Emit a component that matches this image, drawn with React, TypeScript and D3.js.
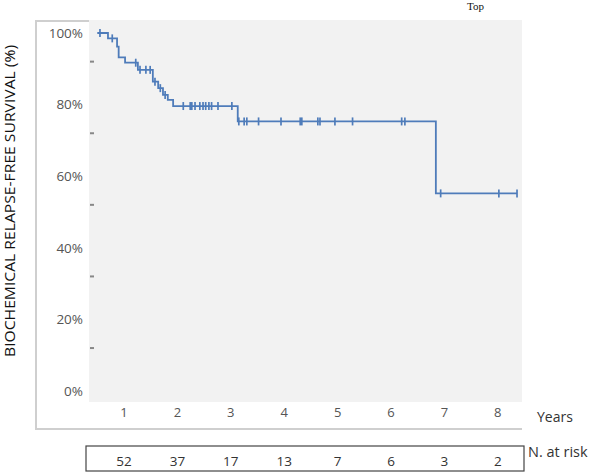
import React from 'react';
import * as d3 from 'd3';

// step points of the survival curve: [years, survival %]
const stepTimes = [0, 0.2, 0.37, 0.4, 0.52, 0.76, 1.04, 1.14, 1.23, 1.32, 1.42, 2.63, 6.34];
const stepValues = [100, 98.5, 96.2, 93.2, 91.7, 89.7, 86.4, 84.6, 82.7, 81.3, 79.6, 75.3, 55.2];
const curveEnd = 7.86;

// censored observations (years)
const censorTimes = [
  0.05, 0.28, 0.72, 0.8, 0.91, 0.99, 1.08, 1.18, 1.27,
  1.61, 1.74, 1.77, 1.83, 1.92, 1.98, 2.03, 2.09, 2.14, 2.26, 2.52,
  2.65, 2.75, 2.8, 3.02, 3.44, 3.8, 3.83, 4.13, 4.17, 4.45, 4.78, 5.7, 5.76,
  6.43, 7.52, 7.86,
];

const yearLabels = ['1', '2', '3', '4', '5', '6', '7', '8'];
const atRisk = [52, 37, 17, 13, 7, 6, 3, 2];
const yTicks = [0, 20, 40, 60, 80, 100];
const yMinorTicks = [12, 32, 52, 72, 92];

const blue = '#4f7cba';
const font = "'Open Sans', 'DejaVu Sans', sans-serif";

function survivalAt(t: number) {
  let s = stepValues[0];
  for (let i = 0; i < stepTimes.length; i++) {
    if (stepTimes[i] <= t) s = stepValues[i];
  }
  return s;
}

export default function App() {
  const x = d3.scaleLinear().domain([0, 8]).range([97.3, 524.5]);
  const band = d3.scaleBand().domain(yearLabels).range([97.3, 524.5]);
  const y = d3.scaleLinear().domain([0, 100]).range([391, 33]);

  const pts: [number, number][] = stepTimes.map((t, i) => [t, stepValues[i]]);
  pts.push([curveEnd, stepValues[stepValues.length - 1]]);
  const line = d3.line<[number, number]>()
    .x(d => x(d[0]))
    .y(d => y(d[1]))
    .curve(d3.curveStepAfter);

  return (
    <svg width={600} height={473} style={{ position: 'absolute', left: 0, top: 0 }}>
      <rect width={600} height={473} fill="#fff" />
      <text x={467} y={10} fontFamily="'Liberation Serif', serif" fontSize={11} fill="#111">Top</text>

      {/* outer frame */}
      <path d="M89,21 H36 V429 H522" fill="none" stroke="#cfcfcf" strokeWidth={2} />
      <rect x={89} y={20} width={433} height={382} fill="#f2f2f2" />

      <text transform="translate(15,201) rotate(-90)" textAnchor="middle"
        fontFamily={font} fontSize={14} textLength={312} lengthAdjust="spacingAndGlyphs" fill="#111">
        BIOCHEMICAL RELAPSE-FREE SURVIVAL (%)
      </text>

      {yTicks.map(v => (
        <text key={v} x={83} y={y(v)} dy="0.35em" textAnchor="end"
          fontFamily={font} fontSize={13.5} fill="#555">{v}%</text>
      ))}
      {yMinorTicks.map(v => (
        <line key={v} x1={90} x2={94} y1={y(v)} y2={y(v)} stroke="#888" strokeWidth={2} />
      ))}

      <path d={line(pts) || ''} fill="none" stroke={blue} strokeWidth={1.8} />
      {censorTimes.map((t, i) => (
        <line key={i} x1={x(t)} x2={x(t)} y1={y(survivalAt(t)) - 4} y2={y(survivalAt(t)) + 4}
          stroke={blue} strokeWidth={1.7} />
      ))}

      {yearLabels.map(l => (
        <text key={l} x={(band(l) || 0) + band.bandwidth() / 2} y={417} textAnchor="middle"
          fontFamily={font} fontSize={13} fill="#555">{l}</text>
      ))}
      <text x={537} y={422} fontFamily={font} fontSize={14} fill="#333">Years</text>

      <rect x={86} y={446} width={438} height={25} fill="none" stroke="#444" strokeWidth={1.2} />
      {atRisk.map((n, i) => (
        <text key={i} x={(band(yearLabels[i]) || 0) + band.bandwidth() / 2} y={466} textAnchor="middle"
          fontFamily={font} fontSize={13.5} fill="#333">{n}</text>
      ))}
      <text x={528} y={457} fontFamily={font} fontSize={14.5} fill="#333">N. at risk</text>
    </svg>
  );
}
